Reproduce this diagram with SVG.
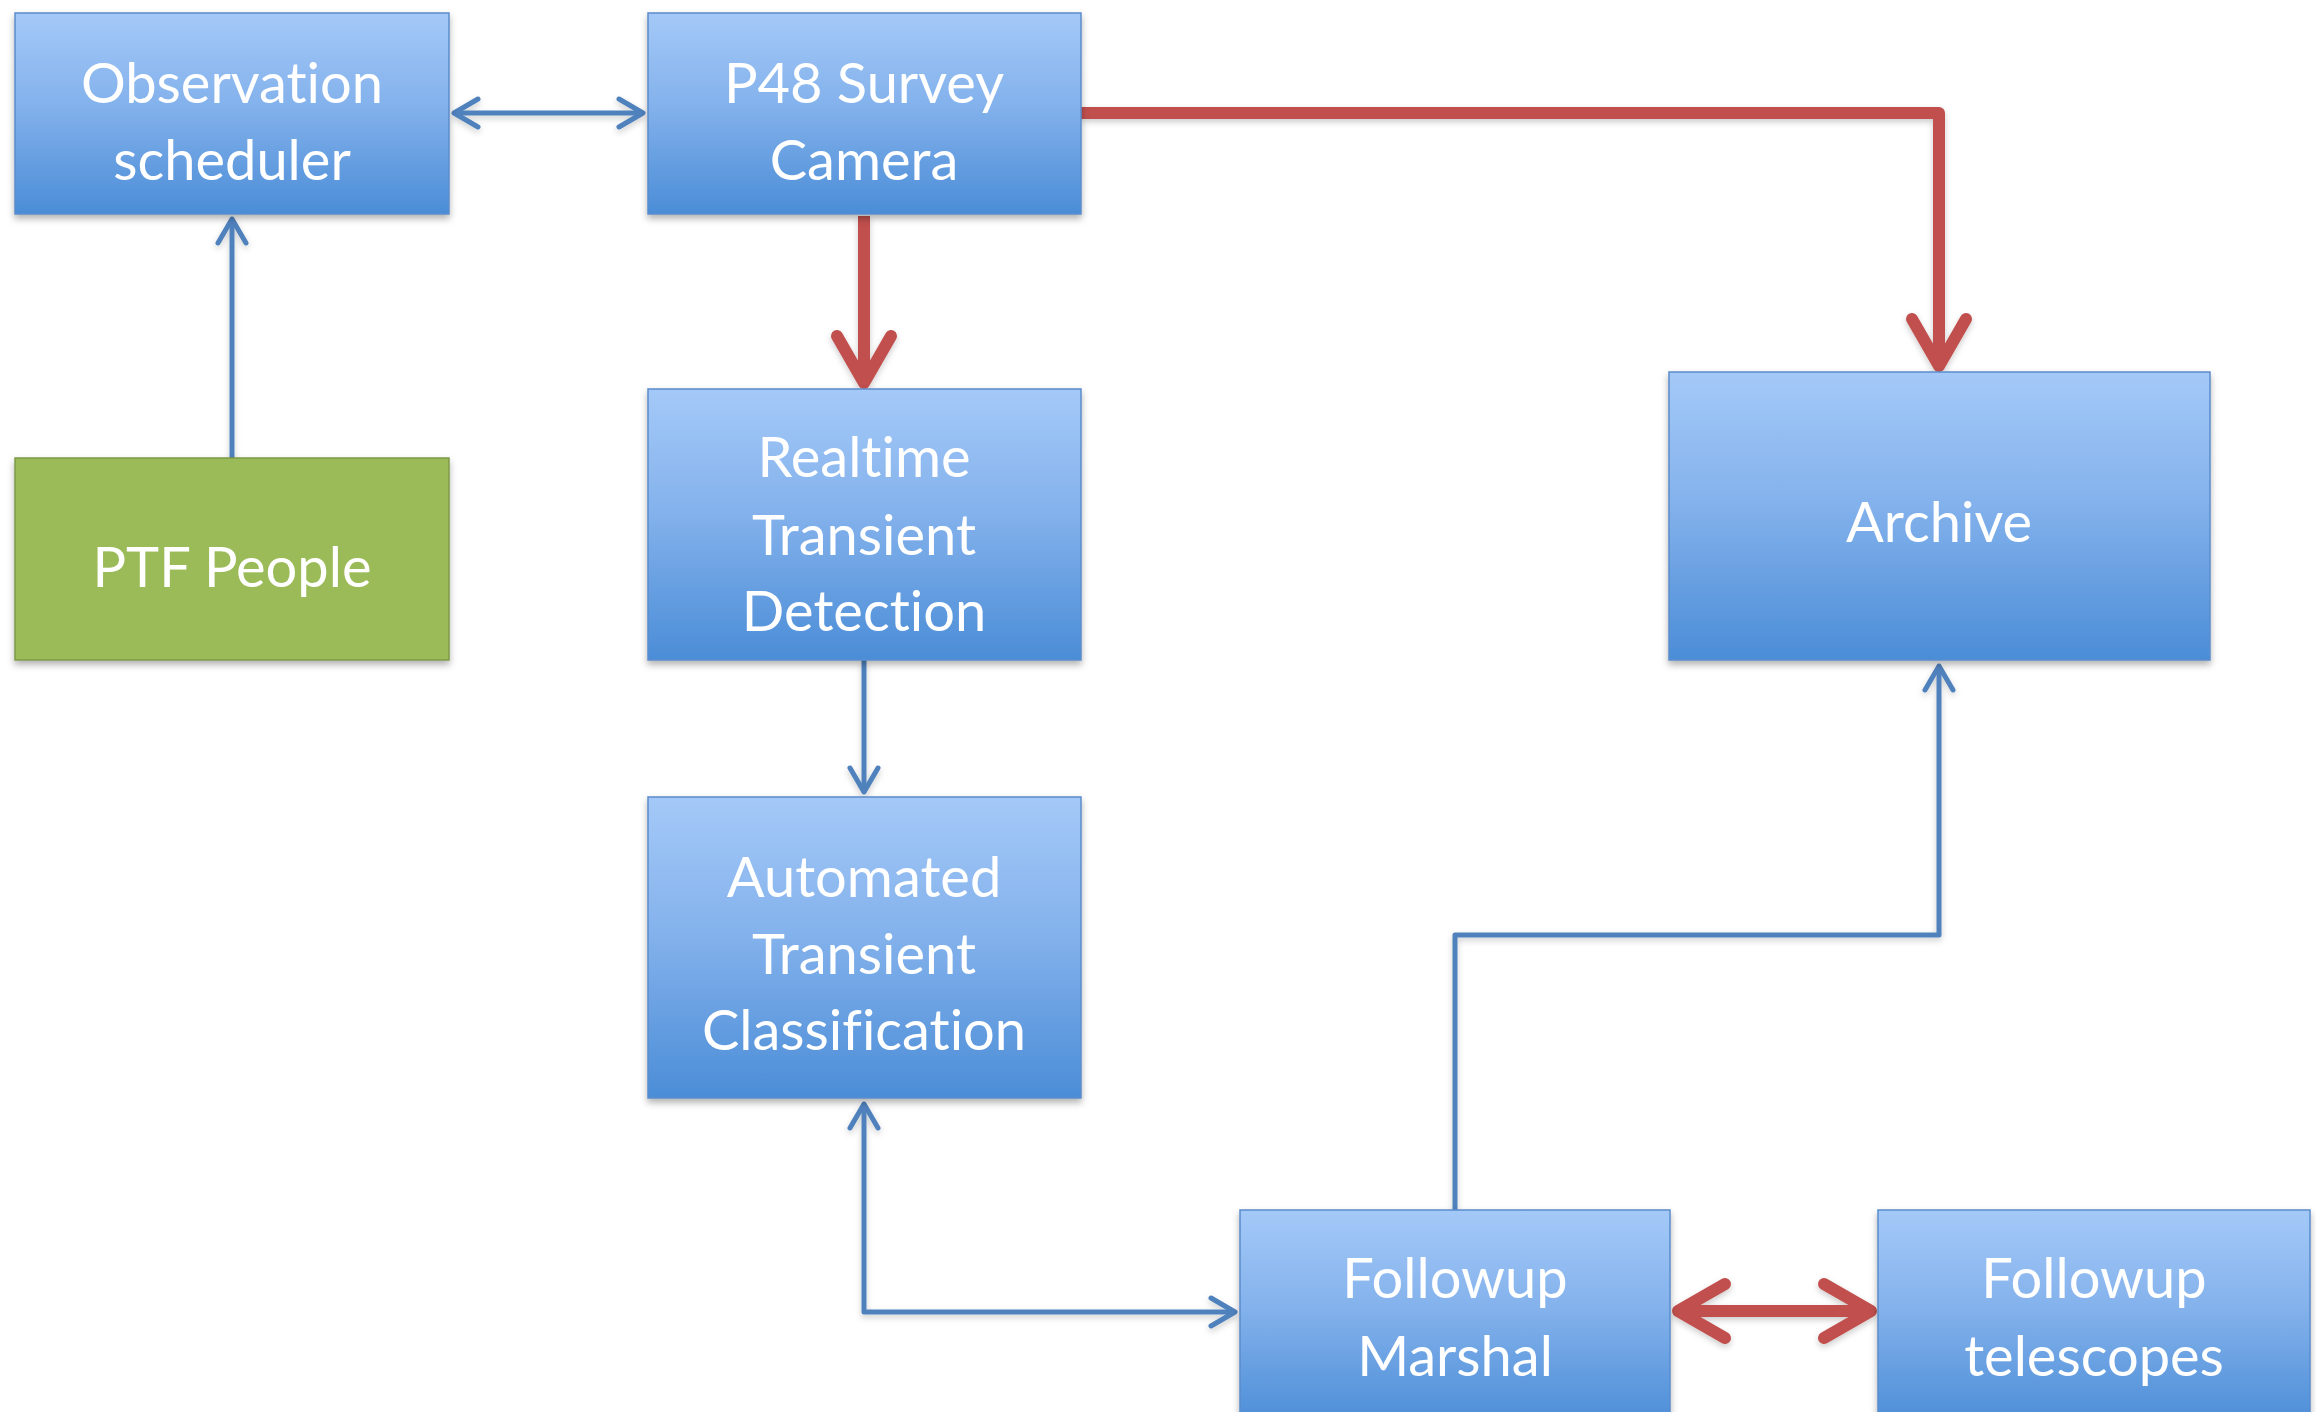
<svg xmlns="http://www.w3.org/2000/svg" width="2316" height="1412" viewBox="0 0 2316 1412">
  <defs>
    <style>
      .box { fill: url(#blueFill); stroke: #5B8CCB; stroke-width: 1.5; filter: url(#shadow); }
      .green { fill: #9BBB59; stroke: #7E9A48; stroke-width: 1.5; filter: url(#shadow); }
      .label { font-family: Lato, "Open Sans", "Liberation Sans", sans-serif; font-size: 56px; fill: #FFFFFF; text-anchor: middle; font-variant-ligatures: none; font-feature-settings: "liga" 0, "dlig" 0; }
      .blue { fill: none; stroke: #4F81BD; stroke-width: 5; stroke-linejoin: round; filter: url(#lineShadow); }
      .red { fill: none; stroke: #C0504D; stroke-width: 12; stroke-linejoin: round; filter: url(#lineShadow); }
    </style>
    <linearGradient id="blueFill" x1="0" y1="0" x2="0" y2="1">
      <stop offset="0" stop-color="#A4C9F8"/>
      <stop offset="0.45" stop-color="#84B2EC"/>
      <stop offset="1" stop-color="#4B8DD7"/>
    </linearGradient>
    <filter id="shadow" x="-10%" y="-10%" width="120%" height="130%">
      <feDropShadow dx="0" dy="4" stdDeviation="3.5" flood-color="#000000" flood-opacity="0.3"/>
    </filter>
    <!-- user-space region so straight, zero-height lines still render -->
    <filter id="lineShadow" filterUnits="userSpaceOnUse" x="0" y="0" width="2316" height="1412">
      <feDropShadow dx="0" dy="3" stdDeviation="3" flood-color="#000000" flood-opacity="0.2"/>
    </filter>
    <!-- open chevron heads; the vertex sits at the path end -->
    <marker id="blueHead" markerUnits="userSpaceOnUse" viewBox="-40 -30 60 60" markerWidth="60" markerHeight="60" refX="0" refY="0" orient="auto-start-reverse" overflow="visible">
      <path d="M-24,-14 L0,0 L-24,14" fill="none" stroke="#4F81BD" stroke-width="5" stroke-linecap="round" stroke-linejoin="round"/>
    </marker>
    <marker id="redHead" markerUnits="userSpaceOnUse" viewBox="-70 -40 90 80" markerWidth="90" markerHeight="80" refX="0" refY="0" orient="auto-start-reverse" overflow="visible">
      <path d="M-47,-27 L0,0 L-47,27" fill="none" stroke="#C0504D" stroke-width="12" stroke-linecap="round" stroke-linejoin="round"/>
    </marker>
  </defs>

  <rect width="2316" height="1412" fill="#FFFFFF"/>

  <g id="connectors">
    <path class="blue" d="M454,113 L643,113" marker-start="url(#blueHead)" marker-end="url(#blueHead)"/>
    <path class="blue" d="M232,458 L232,219" marker-end="url(#blueHead)"/>
    <path class="red" d="M864,216 L864,383" marker-end="url(#redHead)"/>
    <path class="red" d="M1081,113 L1939,113 L1939,366" marker-end="url(#redHead)"/>
    <path class="blue" d="M864,660 L864,792" marker-end="url(#blueHead)"/>
    <path class="blue" d="M1455,1210 L1455,935 L1939,935 L1939,666" marker-end="url(#blueHead)"/>
    <path class="blue" d="M864,1104 L864,1312 L1235,1312" marker-start="url(#blueHead)" marker-end="url(#blueHead)"/>
    <path class="red" d="M1678,1311 L1871,1311" marker-start="url(#redHead)" marker-end="url(#redHead)"/>
  </g>

  <g id="observation-scheduler">
    <rect class="box" x="15" y="13" width="434" height="201"/>
    <text class="label" x="232" y="103">Observation</text>
    <text class="label" x="232" y="180">scheduler</text>
  </g>

  <g id="p48-survey-camera">
    <rect class="box" x="648" y="13" width="433" height="201"/>
    <text class="label" x="864" y="103">P48 Survey</text>
    <text class="label" x="864" y="180">Camera</text>
  </g>

  <g id="ptf-people">
    <rect class="green" x="15" y="458" width="434" height="202"/>
    <text class="label" x="232" y="587">PTF People</text>
  </g>

  <g id="realtime-transient-detection">
    <rect class="box" x="648" y="389" width="433" height="271"/>
    <text class="label" x="864" y="477">Realtime</text>
    <text class="label" x="864" y="555">Transient</text>
    <text class="label" x="864" y="631">Detection</text>
  </g>

  <g id="archive">
    <rect class="box" x="1669" y="372" width="541" height="288"/>
    <text class="label" x="1939" y="542">Archive</text>
  </g>

  <g id="automated-transient-classification">
    <rect class="box" x="648" y="797" width="433" height="301"/>
    <text class="label" x="864" y="897">Automated</text>
    <text class="label" x="864" y="974">Transient</text>
    <text class="label" x="864" y="1050">Classification</text>
  </g>

  <g id="followup-marshal">
    <rect class="box" x="1240" y="1210" width="430" height="215"/>
    <text class="label" x="1455" y="1298">Followup</text>
    <text class="label" x="1455" y="1376">Marshal</text>
  </g>

  <g id="followup-telescopes">
    <rect class="box" x="1878" y="1210" width="432" height="215"/>
    <text class="label" x="2094" y="1298">Followup</text>
    <text class="label" x="2094" y="1376">telescopes</text>
  </g>
</svg>
